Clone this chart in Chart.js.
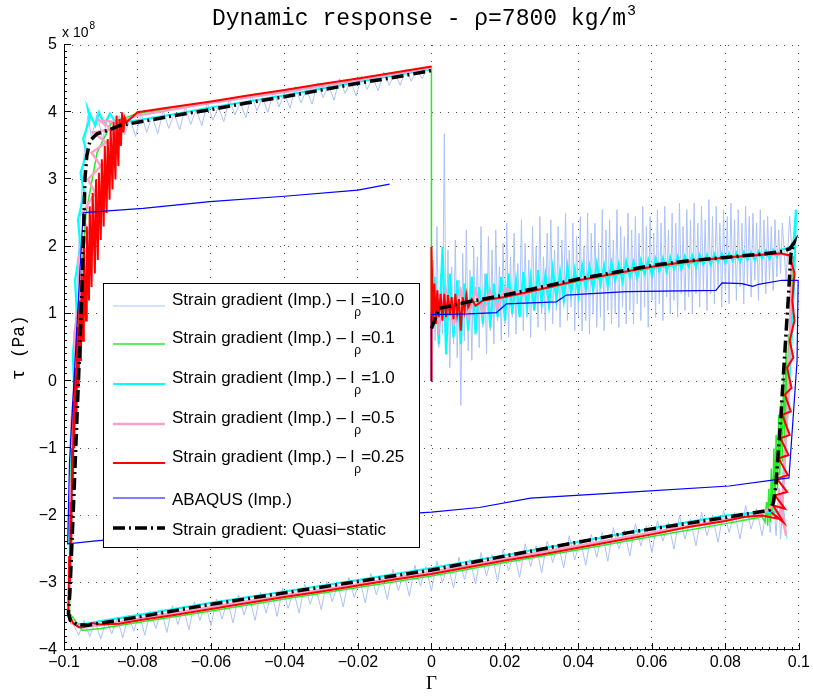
<!DOCTYPE html>
<html><head><meta charset="utf-8">
<style>html,body{margin:0;padding:0;background:#fff;}#wrap{width:813px;height:696px;}</style>
<script src="https://cdn.jsdelivr.net/npm/chart.js@4.4.1/dist/chart.umd.min.js"></script>
</head><body><div id="wrap"><canvas id="c" width="813" height="696"></canvas></div>
<script>
const TITLE_MAIN = 'Dynamic response - ρ=7800 kg/m';
const TITLE_SUP = '3';
const X_TITLE = 'Γ';
const Y_TITLE = 'τ (Pa)';
const Y_EXP = ['x 10', '8'];
const X_TICKS = [-0.1,-0.08,-0.06,-0.04,-0.02,0,0.02,0.04,0.06,0.08,0.1];
const X_TICK_LABELS = ['−0.1','−0.08','−0.06','−0.04','−0.02','0','0.02','0.04','0.06','0.08','0.1'];
const Y_TICKS = [-4,-3,-2,-1,0,1,2,3,4,5];
const Y_TICK_LABELS = ['−4','−3','−2','−1','0','1','2','3','4','5'];
const SERIES_LABELS = [
  'Strain gradient (Imp.) – l_ρ=10.0',
  'Strain gradient (Imp.) – l_ρ=0.1',
  'Strain gradient (Imp.) – l_ρ=1.0',
  'Strain gradient (Imp.) – l_ρ=0.5',
  'Strain gradient (Imp.) – l_ρ=0.25',
  'ABAQUS (Imp.)',
  'Strain gradient: Quasi−static'
];

// Strain gradient l_rho = 10.0  [Gamma, tau/1e8]
const SG_10 = [
[0,0],[0,1.0],
[0.0000,1.00],[0.0005,1.80],[0.0010,0.60],[0.0015,2.30],[0.0020,0.50],[0.0025,1.60],[0.0030,0.70],[0.0035,3.68],[0.0040,0.40],[0.0045,1.95],
[0.0050,0.20],[0.0055,1.70],[0.0060,0.55],[0.0065,2.10],[0.0070,0.35],[0.0075,1.50],[0.0080,-0.36],[0.0085,1.90],[0.0090,0.60],[0.0095,2.25],
[0.0100,0.45],[0.0105,1.65],[0.0110,0.31],[0.0115,2.00],[0.0120,0.70],[0.0125,1.85],[0.0130,0.50],[0.0135,2.30],[0.0140,0.80],[0.0145,1.60],
[0.0150,0.40],[0.0155,2.15],[0.0160,0.75],[0.0165,1.95],[0.0170,0.55],[0.0175,2.25],[0.0180,0.90],[0.0185,1.70],[0.0190,0.60],[0.0195,2.05],
[0.0200,0.85],[0.0205,2.35],[0.0210,0.65],[0.0215,1.85],[0.0220,0.95],[0.0225,2.20],[0.0230,0.70],[0.0235,1.75],[0.0240,1.00],[0.0245,2.40],
[0.0250,0.75],[0.0255,2.05],[0.0260,0.95],[0.0265,1.80],[0.0270,0.65],[0.0275,2.30],[0.0280,1.05],[0.0285,2.00],[0.0290,0.80],[0.0295,2.45],
[0.0300,1.00],[0.0305,1.85],[0.0310,0.75],[0.0315,2.20],[0.0320,1.10],[0.0325,2.40],[0.0330,0.85],[0.0335,1.95],[0.0340,1.05],[0.0345,2.30],
[0.0350,0.80],[0.0355,2.10],[0.0360,1.15],[0.0365,2.50],[0.0370,0.90],[0.0375,1.95],[0.0380,1.10],[0.0385,2.35],[0.0390,0.75],[0.0395,2.15],
[0.0400,0.95],[0.0405,2.45],[0.0410,0.75],[0.0415,2.00],[0.0420,0.90],[0.0425,2.50],[0.0430,0.70],[0.0435,2.20],[0.0440,1.00],[0.0445,2.35],
[0.0450,0.80],[0.0455,2.05],[0.0460,0.95],[0.0465,2.55],[0.0470,0.75],[0.0475,2.25],[0.0480,1.05],[0.0485,2.40],[0.0490,0.85],[0.0495,2.10],
[0.0500,1.00],[0.0505,2.55],[0.0510,0.80],[0.0515,2.30],[0.0520,1.10],[0.0525,2.15],[0.0530,0.85],[0.0535,2.50],[0.0540,1.05],[0.0545,2.25],
[0.0550,0.85],[0.0555,2.45],[0.0560,1.15],[0.0565,2.20],[0.0570,0.90],[0.0575,2.60],[0.0580,1.10],[0.0585,2.30],[0.0590,0.80],[0.0595,2.45],
[0.0600,1.20],[0.0605,2.20],[0.0610,0.95],[0.0615,2.55],[0.0620,1.15],[0.0625,2.35],[0.0630,0.90],[0.0635,2.60],[0.0640,1.25],[0.0645,2.25],
[0.0650,1.00],[0.0655,2.50],[0.0660,1.20],[0.0665,2.35],[0.0670,0.95],[0.0675,2.65],[0.0680,1.30],[0.0685,2.30],[0.0690,1.05],[0.0695,2.55],
[0.0700,1.25],[0.0705,2.40],[0.0710,1.00],[0.0715,2.65],[0.0720,1.30],[0.0725,2.35],[0.0730,1.10],[0.0735,2.60],[0.0740,1.35],[0.0745,2.40],
[0.0750,1.05],[0.0755,2.70],[0.0760,1.30],[0.0765,2.45],[0.0770,1.15],[0.0775,2.60],[0.0780,1.40],[0.0785,2.35],[0.0790,1.10],[0.0795,2.55],
[0.0800,1.35],[0.0805,2.45],[0.0810,1.15],[0.0815,2.65],[0.0820,1.45],[0.0825,2.40],[0.0830,1.20],[0.0835,2.55],[0.0840,1.40],[0.0845,2.35],
[0.0850,1.15],[0.0855,2.60],[0.0860,1.45],[0.0865,2.45],[0.0870,1.25],[0.0875,2.50],[0.0880,1.50],[0.0885,2.35],[0.0890,1.20],[0.0895,2.55],
[0.0900,1.45],[0.0905,2.40],[0.0910,1.30],[0.0915,2.45],[0.0920,1.50],[0.0925,2.30],[0.0930,1.35],[0.0935,2.40],[0.0940,1.55],[0.0945,2.25],[0.0950,1.60],
[0.0955,2.35],[0.0965,1.5],[0.0975,2.45],[0.0985,1.6],[0.0982,0.9],[0.0975,0.1],[0.0968,-0.7],[0.0962,-1.3],[0.0958,-1.7],[0.0950,-2.35],
[0.0945,-1.6],[0.0938,-2.3],[0.0930,-1.7],[0.0922,-2.25],
[0.0915,-1.80],[0.0900,-2.30],[0.0885,-1.90],[0.0870,-2.20],[0.0855,-1.85],[0.0840,-2.35],[0.0825,-1.95],[0.0810,-2.25],[0.0795,-1.92],[0.0780,-2.40],
[0.0765,-2.00],[0.0750,-2.30],[0.0735,-1.95],[0.0720,-2.45],[0.0705,-2.05],[0.0690,-2.35],[0.0675,-2.00],[0.0660,-2.50],[0.0645,-2.10],[0.0630,-2.38],
[0.0615,-2.08],[0.0600,-2.55],[0.0585,-2.15],[0.0570,-2.45],[0.0555,-2.12],[0.0540,-2.60],[0.0525,-2.22],[0.0510,-2.50],[0.0495,-2.18],[0.0480,-2.68],
[0.0465,-2.25],[0.0450,-2.62],[0.0435,-2.28],[0.0420,-2.74],[0.0405,-2.35],[0.0390,-2.66],[0.0375,-2.30],[0.0360,-2.78],[0.0345,-2.42],[0.0330,-2.70],
[0.0315,-2.38],[0.0300,-2.85],[0.0285,-2.45],[0.0270,-2.76],[0.0255,-2.42],[0.0240,-2.92],[0.0225,-2.55],[0.0210,-2.82],[0.0195,-2.50],[0.0180,-2.98],
[0.0165,-2.58],[0.0150,-2.90],[0.0135,-2.55],[0.0120,-3.02],[0.0105,-2.65],[0.0090,-2.95],[0.0075,-2.62],[0.0060,-3.08],[0.0045,-2.72],[0.0030,-3.00],
[0.0015,-2.68],[0.0000,-3.12],[-0.0015,-2.76],[-0.0030,-3.05],[-0.0045,-2.74],[-0.0060,-3.20],[-0.0075,-2.85],[-0.0090,-3.12],[-0.0105,-2.80],[-0.0120,-3.25],
[-0.0135,-2.90],[-0.0150,-3.18],[-0.0165,-2.86],[-0.0180,-3.30],[-0.0195,-2.95],[-0.0210,-3.22],[-0.0225,-2.92],[-0.0240,-3.36],[-0.0255,-3.02],[-0.0270,-3.28],
[-0.0285,-2.98],[-0.0300,-3.40],[-0.0315,-3.06],[-0.0330,-3.32],[-0.0345,-3.02],[-0.0360,-3.45],[-0.0375,-3.12],[-0.0390,-3.38],[-0.0405,-3.08],[-0.0420,-3.50],
[-0.0435,-3.15],[-0.0450,-3.45],[-0.0465,-3.14],[-0.0480,-3.56],[-0.0495,-3.22],[-0.0510,-3.48],[-0.0525,-3.18],[-0.0540,-3.60],[-0.0555,-3.26],[-0.0570,-3.54],
[-0.0585,-3.24],[-0.0600,-3.64],[-0.0615,-3.30],[-0.0630,-3.56],[-0.0645,-3.28],[-0.0660,-3.70],[-0.0675,-3.36],[-0.0690,-3.62],[-0.0705,-3.34],[-0.0720,-3.74],
[-0.0735,-3.40],[-0.0750,-3.68],[-0.0765,-3.42],[-0.0780,-3.78],[-0.0795,-3.46],[-0.0810,-3.72],[-0.0825,-3.48],[-0.0840,-3.82],[-0.0855,-3.52],[-0.0870,-3.76],
[-0.0885,-3.55],[-0.0900,-3.84],[-0.0915,-3.58],[-0.0930,-3.80],[-0.0945,-3.56],[-0.0960,-3.78],[-0.0975,-3.62],
[-0.0988,-3.5],[-0.0986,-2.8],[-0.0982,-1.8],[-0.0977,-0.8],[-0.0972,0.2],[-0.0966,1.2],[-0.0958,2.2],[-0.0951,2.9],[-0.0945,3.4],[-0.0940,3.75],[-0.0935,3.95],
[-0.0925,3.62],[-0.0910,3.98],[-0.0895,3.60],[-0.0880,3.92],[-0.0865,3.62],[-0.0850,3.95],[-0.0835,3.66],[-0.0820,3.90],[-0.0805,3.64],[-0.0790,3.98],
[-0.0775,3.70],[-0.0760,3.94],[-0.0745,3.68],[-0.0730,4.02],[-0.0715,3.76],[-0.0700,3.98],[-0.0685,3.74],[-0.0670,4.08],[-0.0655,3.82],[-0.0640,4.04],
[-0.0625,3.80],[-0.0610,4.14],[-0.0595,3.88],[-0.0580,4.08],[-0.0565,3.86],[-0.0550,4.20],[-0.0535,3.96],[-0.0520,4.14],[-0.0505,3.92],[-0.0490,4.26],
[-0.0475,4.02],[-0.0460,4.22],[-0.0445,4.00],[-0.0430,4.32],[-0.0415,4.08],[-0.0400,4.28],[-0.0385,4.06],[-0.0370,4.38],[-0.0355,4.14],[-0.0340,4.34],
[-0.0325,4.12],[-0.0310,4.44],[-0.0295,4.22],[-0.0280,4.40],[-0.0265,4.18],[-0.0250,4.50],[-0.0235,4.28],[-0.0220,4.46],[-0.0205,4.24],[-0.0190,4.54],
[-0.0175,4.34],[-0.0160,4.52],[-0.0145,4.32],[-0.0130,4.60],[-0.0115,4.40],[-0.0100,4.58],[-0.0085,4.40],[-0.0070,4.64],[-0.0055,4.46],[-0.0040,4.62],
[-0.0025,4.50],[-0.0010,4.68],[0.0000,4.62]
];

// Strain gradient l_rho = 0.1
const SG_01 = [
[0,0],[0,1.0],[0.005,1.12],[0.02,1.25],[0.04,1.48],[0.06,1.68],[0.08,1.83],[0.09,1.87],[0.096,1.9],[0.0985,1.85],
[0.098,1.0],[0.0975,0.2],[0.0972,0.7],[0.0968,-0.6],[0.0965,0.5],[0.0962,-0.9],[0.0958,0.1],[0.0955,-1.2],[0.0952,-0.3],[0.0948,-1.4],
[0.0945,-0.5],[0.0942,-1.6],[0.0938,-0.8],[0.0935,-1.8],[0.0932,-1.0],[0.0928,-2.0],[0.0925,-1.3],[0.0922,-2.1],[0.0918,-1.6],[0.0915,-2.15],
[0.0912,-1.8],[0.0908,-2.1],[0.090,-2.02],
[0.085,-2.07],[0.08,-2.12],[0.06,-2.31],[0.04,-2.51],[0.02,-2.7],[0,-2.9],[-0.02,-3.07],[-0.04,-3.24],[-0.06,-3.42],[-0.08,-3.59],
[-0.09,-3.68],[-0.095,-3.71],[-0.0985,-3.45],[-0.098,-1.0],[-0.096,1.0],[-0.094,2.5],[-0.091,3.4],[-0.087,3.85],[-0.08,3.98],[-0.04,4.32],
[0,4.68],[0,1.0]
];

// Strain gradient l_rho = 1.0
const SG_1 = [
[0,0],[0,1.0],
[0.000,1.00],[0.001,1.55],[0.002,0.55],[0.003,2.00],[0.004,0.40],[0.005,1.60],[0.006,0.65],[0.007,1.50],[0.008,0.55],[0.009,1.45],
[0.010,0.75],[0.011,1.55],[0.012,0.70],[0.013,1.40],[0.014,0.85],[0.015,1.60],[0.016,0.80],[0.017,1.45],[0.018,0.95],[0.019,1.55],
[0.020,0.90],[0.021,1.60],[0.022,1.00],[0.023,1.50],[0.024,0.95],[0.025,1.62],[0.026,1.08],[0.027,1.55],[0.028,1.05],[0.029,1.65],
[0.030,1.15],[0.031,1.58],[0.032,1.12],[0.033,1.68],[0.034,1.22],[0.035,1.62],[0.036,1.20],[0.037,1.70],[0.038,1.30],[0.039,1.66],
[0.040,1.28],[0.041,1.72],[0.042,1.38],[0.043,1.70],[0.044,1.36],[0.045,1.75],[0.046,1.44],[0.047,1.72],[0.048,1.42],[0.049,1.76],
[0.050,1.50],[0.051,1.75],[0.052,1.48],[0.053,1.78],[0.054,1.55],[0.055,1.77],[0.056,1.54],[0.057,1.80],[0.058,1.60],[0.059,1.80],
[0.060,1.58],[0.061,1.82],[0.062,1.64],[0.063,1.83],[0.064,1.63],[0.065,1.84],[0.066,1.68],[0.067,1.85],[0.068,1.67],[0.069,1.86],
[0.070,1.71],[0.071,1.87],[0.072,1.70],[0.073,1.88],[0.074,1.74],[0.075,1.88],[0.076,1.73],[0.077,1.89],[0.078,1.77],[0.079,1.90],
[0.080,1.76],[0.081,1.90],[0.082,1.79],[0.083,1.91],[0.084,1.78],[0.085,1.92],[0.086,1.81],[0.087,1.92],[0.088,1.80],[0.089,1.93],
[0.090,1.83],[0.091,1.94],[0.092,1.82],[0.093,1.95],[0.094,1.85],[0.095,1.95],
[0.0985,2.0],[0.0992,2.55],[0.0988,1.6],[0.098,0.6],[0.097,-0.4],[0.096,-1.2],[0.0955,-1.8],[0.0962,-2.2],[0.0948,-1.95],[0.092,-1.95],[0.09,-1.95],
[0.08,-2.0],[0.06,-2.19],[0.04,-2.39],[0.02,-2.59],[0,-2.78],[-0.02,-2.96],[-0.04,-3.13],[-0.06,-3.3],[-0.08,-3.48],[-0.09,-3.57],[-0.095,-3.62],[-0.0975,-3.6],[-0.0988,-3.5],
[-0.0982,-2.8],[-0.0986,-2.2],[-0.0978,-1.5],[-0.0982,-0.9],[-0.0972,-0.2],[-0.0976,0.4],[-0.0965,1.0],[-0.0970,1.5],[-0.0955,2.0],[-0.0962,2.4],
[-0.0945,2.8],[-0.0955,3.1],[-0.0938,3.4],[-0.0948,3.6],[-0.0930,3.9],[-0.0935,4.05],[-0.0915,3.8],[-0.0905,4.0],[-0.089,3.82],[-0.0875,3.98],[-0.086,3.85],
[-0.085,3.85],[-0.08,3.88],[-0.07,3.97],[-0.06,4.07],[-0.05,4.16],[-0.04,4.25],[-0.03,4.35],[-0.02,4.45],[-0.01,4.55],[0,4.64]
];

// Strain gradient l_rho = 0.5
const SG_05 = [
[0,0],[0,1.0],[0.001,1.4],[0.002,0.8],[0.004,1.35],[0.006,0.85],[0.008,1.35],[0.010,0.95],[0.012,1.35],[0.014,1.0],[0.016,1.35],[0.018,1.08],[0.020,1.38],
[0.025,1.28],[0.03,1.4],[0.04,1.5],[0.05,1.6],[0.06,1.7],[0.07,1.78],[0.08,1.83],[0.09,1.88],[0.095,1.9],[0.098,1.85],
[0.0975,0.5],[0.0968,-0.5],[0.096,-1.3],[0.0955,-1.9],[0.0965,-2.3],[0.0945,-1.6],[0.0955,-2.1],[0.093,-1.85],[0.09,-1.98],
[0.08,-2.06],[0.06,-2.25],[0.04,-2.45],[0.02,-2.64],[0,-2.84],[-0.02,-3.02],[-0.04,-3.19],[-0.06,-3.36],[-0.08,-3.54],[-0.09,-3.63],[-0.095,-3.66],[-0.098,-3.6],
[-0.0988,-3.4],[-0.0980,-2.6],[-0.0986,-2.0],[-0.0975,-1.2],[-0.0980,-0.6],[-0.0966,0.2],[-0.0972,0.7],[-0.0955,1.3],[-0.0962,1.8],[-0.0935,2.2],
[-0.0950,2.5],[-0.0915,2.8],[-0.0935,3.0],[-0.090,3.2],[-0.0925,3.4],[-0.0885,3.55],[-0.092,3.7],[-0.087,3.75],[-0.0905,3.88],[-0.0855,3.85],
[-0.08,3.95],[-0.06,4.14],[-0.04,4.3],[-0.02,4.48],[0,4.66]
];

// Strain gradient l_rho = 0.25
const SG_025 = [
[0,0],[0,2.0],[0.0004,0.9],[0.0008,1.45],[0.0012,0.85],[0.0016,1.35],[0.002,0.95],[0.0025,1.3],[0.003,0.9],[0.0035,1.3],[0.004,0.95],
[0.0045,1.28],[0.005,0.98],[0.0055,1.25],[0.006,0.92],[0.0065,1.3],[0.007,1.0],[0.0075,1.22],[0.008,0.75],[0.0085,1.25],[0.009,1.05],[0.0095,1.28],
[0.01,1.1],[0.011,1.22],[0.012,1.12],[0.014,1.2],[0.02,1.25],[0.03,1.37],[0.04,1.5],[0.05,1.6],[0.06,1.7],[0.07,1.78],[0.08,1.84],[0.09,1.88],[0.095,1.9],[0.0975,1.87],
[0.0988,1.6],[0.0982,1.2],[0.0988,0.9],[0.0975,0.6],[0.0985,0.35],[0.0968,0.2],[0.098,-0.1],[0.0962,-0.2],[0.0978,-0.45],[0.0955,-0.5],
[0.0975,-0.8],[0.095,-0.85],[0.0972,-1.1],[0.0945,-1.15],[0.097,-1.4],[0.094,-1.45],[0.0968,-1.65],[0.0935,-1.7],[0.0962,-1.9],[0.093,-1.85],
[0.0958,-2.1],[0.0925,-1.95],[0.0945,-2.05],[0.09,-2.0],
[0.085,-2.02],[0.08,-2.08],[0.07,-2.17],[0.06,-2.28],[0.05,-2.38],[0.04,-2.48],[0.03,-2.58],[0.02,-2.67],[0.01,-2.77],[0,-2.87],
[-0.01,-2.95],[-0.02,-3.04],[-0.03,-3.13],[-0.04,-3.21],[-0.05,-3.3],[-0.06,-3.39],[-0.07,-3.48],[-0.08,-3.56],[-0.085,-3.61],[-0.09,-3.62],
[-0.0925,-3.6],[-0.0945,-3.66],[-0.096,-3.66],[-0.0975,-3.6],
[-0.0988,-3.45],[-0.0986,-2.6],[-0.0984,-3.0],[-0.0982,-1.8],[-0.0980,-2.4],[-0.0978,-1.0],[-0.0976,-1.6],[-0.0974,-0.3],[-0.0972,-1.0],[-0.0970,0.2],
[-0.0966,-0.6],[-0.0964,0.8],[-0.0960,-0.1],[-0.0958,1.2],[-0.0954,0.3],[-0.0952,1.6],[-0.0948,0.6],[-0.0946,2.0],[-0.0940,0.9],[-0.0938,2.3],
[-0.0932,1.2],[-0.0930,2.6],[-0.0925,1.4],[-0.0922,2.8],[-0.0916,1.6],[-0.0913,3.0],[-0.0908,1.8],[-0.0905,3.1],[-0.0900,2.1],[-0.0897,3.3],
[-0.0892,2.3],[-0.0889,3.5],[-0.0884,2.5],[-0.0881,3.6],[-0.0876,2.7],[-0.0873,3.75],[-0.0868,2.85],[-0.0865,3.85],[-0.0860,3.0],[-0.0857,3.95],
[-0.0852,3.2],[-0.0849,3.9],[-0.0845,3.5],[-0.0842,4.0],[-0.0838,3.7],[-0.0835,3.92],[-0.083,3.85],
[-0.08,4.0],[-0.07,4.08],[-0.06,4.16],[-0.05,4.25],[-0.04,4.33],[-0.03,4.42],[-0.02,4.5],[-0.01,4.59],[0,4.68]
];

// ABAQUS (Imp.)
const ABAQUS = [
[0,0],[0,0.99],[0.01,1.0],[0.0177,1.02],[0.0204,1.15],[0.034,1.18],[0.0367,1.28],[0.053,1.33],[0.0774,1.35],[0.0791,1.46],
[0.0845,1.45],[0.0875,1.41],[0.089,1.44],[0.0954,1.5],[0.0998,1.5],[0.0995,0.3],[0.0973,-1.44],[0.081,-1.56],[0.054,-1.65],[0.027,-1.74],
[0.013,-1.88],[0,-1.95],[-0.02,-2.02],[-0.05,-2.14],[-0.08,-2.32],[-0.092,-2.38],[-0.099,-2.42],[-0.0985,-1.2],[-0.097,0.3],[-0.0958,1.5],
[-0.0948,2.5],[-0.0937,2.51],[-0.0785,2.57],[-0.0603,2.67],[-0.04,2.75],[-0.02,2.84],[-0.0114,2.93]
];

// Strain gradient: quasi-static
const QUASI_STATIC = [
[0.0,0.78],[0.002,1.08],[0.01,1.18],[0.02,1.28],[0.03,1.4],[0.04,1.52],[0.05,1.62],[0.06,1.72],[0.07,1.79],[0.08,1.84],[0.09,1.89],
[0.0955,1.93],[0.0975,1.97],[0.0987,2.06],[0.0978,1.88],[0.0972,1.3],[0.0965,0.71],[0.0958,0.1],[0.0951,-0.53],[0.0944,-1.05],[0.0937,-1.58],
[0.093,-1.82],[0.092,-1.92],[0.081,-2.02],[0.054,-2.25],[0.027,-2.53],[0.0,-2.81],[-0.02,-2.98],[-0.04,-3.15],[-0.06,-3.32],[-0.08,-3.51],
[-0.09,-3.6],[-0.0935,-3.63],[-0.0965,-3.62],[-0.0983,-3.56],[-0.0988,-3.45],[-0.0984,-3.15],[-0.0976,-2.1],[-0.0968,-1.0],[-0.096,0.1],
[-0.0952,1.2],[-0.0947,2.1],[-0.0943,3.0],[-0.0938,3.35],[-0.0929,3.58],[-0.091,3.68],[-0.0875,3.74],[-0.085,3.8],[-0.08,3.85],[-0.07,3.95],
[-0.06,4.04],[-0.05,4.14],[-0.04,4.23],[-0.03,4.33],[-0.02,4.43],[-0.01,4.52],[0,4.62]
];

const toPts = arr => arr.map(p => ({x: p[0], y: p[1]}));
const STYLES = [
  {color:'rgb(172,194,248)', width:1, order:6},
  {color:'rgb(40,235,40)', width:1.5, order:5},
  {color:'rgb(0,255,255)', width:2.2, order:4},
  {color:'rgb(255,160,200)', width:2.5, order:3},
  {color:'rgb(255,0,0)', width:2, order:2},
  {color:'rgb(0,0,255)', width:1.2, order:1},
  {color:'#000000', width:3.5, order:0, dash:[12,4,2,4]}
];
const SERIES = [SG_10, SG_01, SG_1, SG_05, SG_025, ABAQUS, QUASI_STATIC];
const datasets = SERIES.map((s, i) => ({
  label: SERIES_LABELS[i],
  data: toPts(s),
  showLine: true, fill: false, tension: 0,
  borderColor: STYLES[i].color, backgroundColor: STYLES[i].color,
  borderWidth: STYLES[i].width, borderDash: STYLES[i].dash || [],
  borderCapStyle: 'butt', borderJoinStyle: 'miter',
  pointRadius: 0, pointHoverRadius: 0, order: STYLES[i].order
}));

const axesPlugin = {
  id: 'matlabAxes',
  afterDatasetsDraw(chart) {
    const {ctx, chartArea: a, scales: {x: xs, y: ys}} = chart;
    ctx.save();
    ctx.strokeStyle = '#000'; ctx.lineWidth = 1;
    ctx.beginPath();
    ctx.moveTo(a.left + 0.5, a.top); ctx.lineTo(a.left + 0.5, a.bottom);
    ctx.moveTo(a.left, a.bottom - 0.5); ctx.lineTo(a.right, a.bottom - 0.5);
    X_TICKS.forEach(v => { const p = Math.round(xs.getPixelForValue(v)) + 0.5; ctx.moveTo(p, a.bottom); ctx.lineTo(p, a.bottom - 7); });
    Y_TICKS.forEach(v => { const p = Math.round(ys.getPixelForValue(v)) - 0.5; ctx.moveTo(a.left, p); ctx.lineTo(a.left + 7, p); });
    for (let k = -50; k <= 50; k++) { const p = Math.round(xs.getPixelForValue(k * 0.002)) + 0.5; ctx.moveTo(p, a.bottom); ctx.lineTo(p, a.bottom - 3); }
    for (let k = -40; k <= 50; k++) { const p = Math.round(ys.getPixelForValue(k * 0.1)) - 0.5; ctx.moveTo(a.left, p); ctx.lineTo(a.left + 3, p); }
    ctx.stroke();
    ctx.fillStyle = '#000';
    ctx.textBaseline = 'alphabetic'; ctx.textAlign = 'left';
    ctx.font = '14px "Liberation Sans", Arial, sans-serif';
    ctx.fillText(Y_EXP[0], a.left - 2, a.top - 8);
    const w = ctx.measureText(Y_EXP[0]).width;
    ctx.font = '10px "Liberation Sans", Arial, sans-serif';
    ctx.fillText(Y_EXP[1], a.left - 2 + w + 1, a.top - 16);
    // title
    ctx.font = '23px "Liberation Mono", "Courier New", monospace';
    ctx.fillText(TITLE_MAIN, 212, 25);
    const tw = ctx.measureText(TITLE_MAIN).width;
    ctx.font = '15px "Liberation Mono", "Courier New", monospace';
    ctx.fillText(TITLE_SUP, 212 + tw + 1, 15);
    ctx.restore();
  },
  afterDraw(chart) {
    const {ctx} = chart;
    const bx = 103, by = 283, bw = 316, bh = 264;
    ctx.save();
    ctx.fillStyle = '#fff'; ctx.fillRect(bx, by, bw, bh);
    ctx.strokeStyle = '#000'; ctx.lineWidth = 1;
    ctx.strokeRect(bx + 0.5, by + 0.5, bw, bh);
    const lineY = [306, 344, 384, 424, 463, 498, 528];
    chart.data.datasets.forEach((ds, i) => {
      const y = lineY[i];
      ctx.save();
      ctx.strokeStyle = ds.borderColor; ctx.lineWidth = ds.borderWidth;
      ctx.setLineDash(ds.borderDash || []);
      ctx.beginPath(); ctx.moveTo(113, y); ctx.lineTo(165, y); ctx.stroke();
      ctx.restore();
      ctx.fillStyle = '#000'; ctx.textAlign = 'left'; ctx.textBaseline = 'middle';
      ctx.font = '17px "Liberation Sans", Arial, sans-serif';
      const lab = ds.label;
      if (lab.includes('_ρ')) {
        const [pre, post] = lab.split('_ρ');
        const ty = y - 6;
        ctx.fillText(pre, 172, ty);
        let xx = 172 + ctx.measureText(pre).width;
        ctx.font = '12px "Liberation Sans", Arial, sans-serif';
        ctx.fillText('ρ', xx, ty + 13);
        xx += ctx.measureText('ρ').width;
        ctx.font = '17px "Liberation Sans", Arial, sans-serif';
        ctx.fillText(post, xx, ty);
      } else {
        ctx.fillText(lab, 172, y + 2);
      }
    });
    ctx.restore();
  }
};

new Chart(document.getElementById('c'), {
  type: 'scatter',
  data: {datasets},
  options: {
    responsive: false, animation: false, devicePixelRatio: 1,
    layout: {padding: {left: 0, right: 13, top: 45, bottom: 0}},
    plugins: {legend: {display: false}, tooltip: {enabled: false}, title: {display: false}},
    scales: {
      x: {
        type: 'linear', min: -0.1, max: 0.1,
        afterBuildTicks: s => { s.ticks = X_TICKS.map(v => ({value: v})); },
        ticks: {autoSkip: false, maxRotation: 0, minRotation: 0, padding: 3, color: '#000',
          font: {family: '"Liberation Sans", Arial, sans-serif', size: 16},
          callback: (v, i) => X_TICK_LABELS[i]},
        grid: {color: 'rgba(0,0,0,0.7)', lineWidth: 1, drawTicks: false},
        border: {display: false, dash: [1, 7]},
        title: {display: true, text: X_TITLE, color: '#000',
          font: {family: '"Liberation Serif", "Times New Roman", serif', size: 19, lineHeight: 1.2},
          padding: {top: 0, bottom: 1}},
        afterFit: s => { s.height = 46; }
      },
      y: {
        type: 'linear', min: -4, max: 5,
        afterBuildTicks: s => { s.ticks = Y_TICKS.map(v => ({value: v})); },
        ticks: {autoSkip: false, padding: 7, color: '#000',
          font: {family: '"Liberation Sans", Arial, sans-serif', size: 16},
          callback: (v, i) => Y_TICK_LABELS[i]},
        grid: {color: 'rgba(0,0,0,0.7)', lineWidth: 1, drawTicks: false},
        border: {display: false, dash: [1, 7]},
        title: {display: true, text: Y_TITLE, color: '#000',
          font: {family: '"Liberation Mono", "Courier New", monospace', size: 18, lineHeight: 1.2},
          padding: {top: 8, bottom: 0}},
        afterFit: s => { s.width = 64; }
      }
    }
  },
  plugins: [axesPlugin]
});
</script></body></html>
